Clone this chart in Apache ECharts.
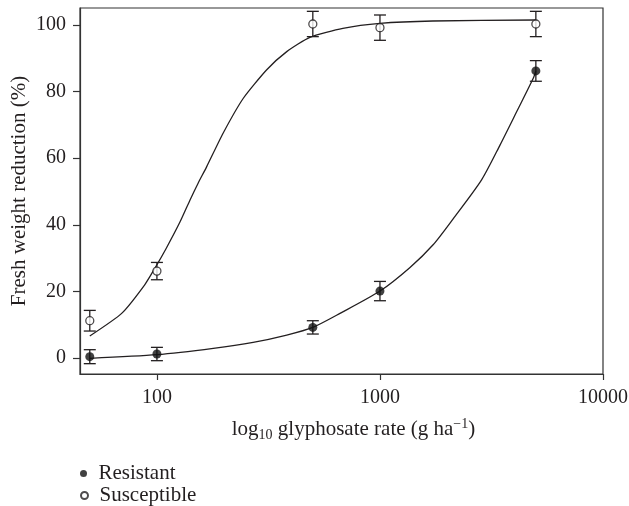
<!DOCTYPE html>
<html><head><meta charset="utf-8">
<script src="https://cdn.jsdelivr.net/npm/echarts@6/dist/echarts.min.js"></script>
<style>html,body{margin:0;padding:0;background:#fff}#c{width:629px;height:506px}</style>
</head><body><div id="c"></div>
<script>
// Observed data (dose in g ha^-1, fresh weight reduction %)
const doses = [50, 100, 500, 1000, 5000];
const resistantMean = [0.4, 1.2, 9.2, 20.1, 86.2];
const resistantErr = [2.1, 2.0, 2.0, 2.9, 3.1];
const susceptibleMean = [11.2, 26.1, 100.3, 99.2, 100.3];
const susceptibleErr = [3.1, 2.6, 3.8, 3.8, 3.8];

// Fitted curves
const resistantFitX = [50, 100, 179, 270, 382, 500, 662, 1000, 1364, 1731, 2129, 2855, 3457, 4105, 4867, 5000];
const resistantFitY = [-0.1, 1.0, 2.9, 4.7, 6.9, 9.2, 13.4, 20.1, 27.2, 34.0, 41.8, 53.5, 64.0, 74.0, 84.0, 86.2];
const susceptibleFitX = [50, 69.5, 88, 98, 110, 127, 140.6, 153, 167, 198, 244, 310, 382, 485, 682, 1000, 1725, 5000];
const susceptibleFitY = [6.6, 13.4, 21.9, 27.0, 32.9, 40.9, 47.4, 52.5, 57.4, 67.5, 78.0, 86.5, 92.0, 96.3, 99.0, 100.5, 101.2, 101.5];

const xTicks = [100, 1000, 10000];
const yTicks = [0, 20, 40, 60, 80, 100];

const FONT = 'Liberation Serif';
const INK = '#231f20';

function zip(a, b) { return a.map((v, i) => [v, b[i]]); }
function errData(mean, err) { return doses.map((d, i) => [d, mean[i] - err[i], mean[i] + err[i]]); }

function errRender(params, api) {
  const x = api.value(0);
  const lo = api.coord([x, api.value(1)]);
  const hi = api.coord([x, api.value(2)]);
  const hw = 6;
  const style = { stroke: INK, lineWidth: 1.3, fill: null };
  return {
    type: 'group',
    children: [
      { type: 'line', shape: { x1: lo[0], y1: lo[1], x2: hi[0], y2: hi[1] }, style },
      { type: 'line', shape: { x1: lo[0] - hw, y1: lo[1], x2: lo[0] + hw, y2: lo[1] }, style },
      { type: 'line', shape: { x1: hi[0] - hw, y1: hi[1], x2: hi[0] + hw, y2: hi[1] }, style }
    ]
  };
}

const legendCommon = {
  orient: 'vertical', left: 80, padding: 0,
  itemWidth: 20, itemHeight: 7,
  selectedMode: false,
  textStyle: { fontFamily: FONT, fontSize: 21, color: INK }
};

const chart = echarts.init(document.getElementById('c'), null, { renderer: 'canvas' });
chart.setOption({
  animation: false,
  backgroundColor: '#fff',
  textStyle: { fontFamily: FONT, color: INK },
  grid: { left: 80, right: 26, top: 8, bottom: 132, show: true, borderColor: '#333', borderWidth: 1.2,
    backgroundColor: 'transparent', containLabel: false, outerBoundsMode: 'none' },
  legend: [
    Object.assign({}, legendCommon, { data: ['Resistant'], top: 463 }),
    Object.assign({}, legendCommon, { data: ['Susceptible'], top: 485 })
  ],
  xAxis: {
    type: 'log', logBase: 10, min: 45.2, max: 10000,
    splitLine: { show: false },
    axisLine: { onZero: false, lineStyle: { color: '#333', width: 1.2 } },
    axisTick: { customValues: xTicks, length: 6, lineStyle: { color: '#333', width: 1.2 } },
    axisLabel: { customValues: xTicks, margin: 14, fontSize: 20, fontFamily: FONT, color: INK,
      formatter: v => String(Math.round(v)) },
    name: '{n|log}{sub|10}{n| glyphosate rate (g ha}{sup|−1}{n|)}',
    nameLocation: 'middle', nameGap: 43,
    nameTextStyle: {
      padding: [0, 0, 0, 24],
      rich: {
        n: { fontFamily: FONT, fontSize: 21, color: INK, lineHeight: 25, verticalAlign: 'middle' },
        sub: { fontFamily: FONT, fontSize: 14, color: INK, lineHeight: 14, verticalAlign: 'bottom' },
        sup: { fontFamily: FONT, fontSize: 14, color: INK, lineHeight: 14, verticalAlign: 'top' }
      }
    }
  },
  yAxis: {
    type: 'value', min: -4.8, max: 105.1,
    splitLine: { show: false },
    axisLine: { show: true, onZero: false, lineStyle: { color: '#333', width: 1.2 } },
    axisTick: { show: true, customValues: yTicks, length: 7, lineStyle: { color: '#333', width: 1.2 } },
    axisLabel: { customValues: yTicks, margin: 14, fontSize: 20, fontFamily: FONT, color: INK },
    name: 'Fresh weight reduction (%)',
    nameLocation: 'middle', nameGap: 50, nameMoveOverlap: false,
    nameTextStyle: { fontFamily: FONT, fontSize: 21, color: INK }
  },
  series: [
    { name: 'ResistantFit', type: 'line', data: zip(resistantFitX, resistantFitY), symbol: 'none', smooth: 0.25,
      lineStyle: { color: INK, width: 1.3 }, z: 1, silent: true },
    { name: 'SusceptibleFit', type: 'line', data: zip(susceptibleFitX, susceptibleFitY), symbol: 'none', smooth: 0.2,
      lineStyle: { color: INK, width: 1.3 }, z: 1, silent: true },
    { name: 'ResistantErr', type: 'custom', renderItem: errRender, data: errData(resistantMean, resistantErr), z: 2, silent: true },
    { name: 'SusceptibleErr', type: 'custom', renderItem: errRender, data: errData(susceptibleMean, susceptibleErr), z: 2, silent: true },
    { name: 'Resistant', type: 'scatter', data: zip(doses, resistantMean), symbol: 'circle', symbolSize: 9,
      itemStyle: { color: '#111' }, z: 3 },
    { name: 'Susceptible', type: 'scatter', data: zip(doses, susceptibleMean), symbol: 'circle', symbolSize: 8,
      itemStyle: { color: '#fff', borderColor: INK, borderWidth: 1.3 }, z: 3 }
  ]
});
</script>
</body></html>
